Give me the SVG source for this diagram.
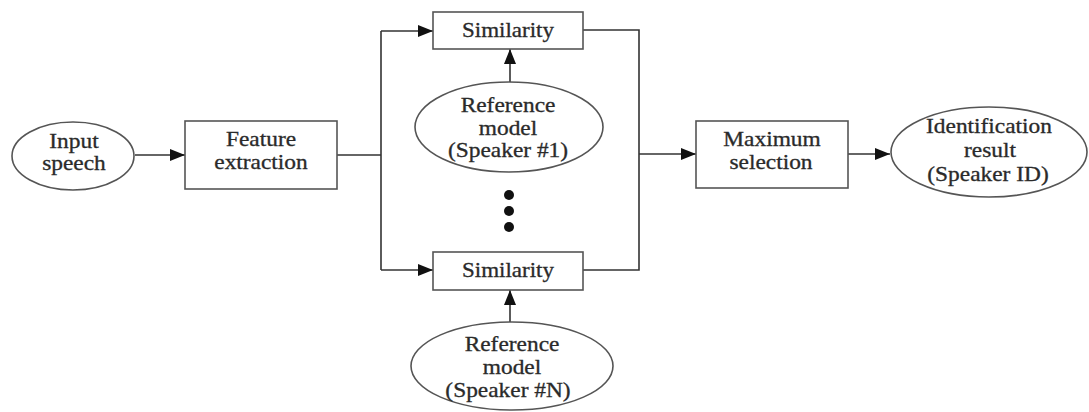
<svg xmlns="http://www.w3.org/2000/svg" width="1089" height="412" viewBox="0 0 1089 412">
  <defs>
    <marker id="arrow" viewBox="0 0 15 12" refX="15" refY="6" markerWidth="15" markerHeight="12" markerUnits="userSpaceOnUse" orient="auto">
      <path d="M0,0 L15,6 L0,12 Z" fill="#111"/>
    </marker>
    <style>
      .shape { fill: #fff; stroke: #555; stroke-width: 1.6; }
      .wire { fill: none; stroke: #333; stroke-width: 1.6; }
      .label { font-family: "Liberation Serif", "Times New Roman", serif; font-size: 20px; fill: #2a2a2a; stroke: #2a2a2a; stroke-width: 0.3; text-anchor: middle; }
    </style>
  </defs>
  <rect width="1089" height="412" fill="#fff"/>

  <g id="connectors">
    <line class="wire" x1="135" y1="155" x2="185" y2="155" marker-end="url(#arrow)"/>
    <polyline class="wire" points="337,155 381,155"/>
    <polyline class="wire" points="381,31 381,270"/>
    <line class="wire" x1="381" y1="31" x2="433" y2="31" marker-end="url(#arrow)"/>
    <line class="wire" x1="381" y1="270" x2="433" y2="270" marker-end="url(#arrow)"/>
    <line class="wire" x1="510" y1="82" x2="510" y2="49" marker-end="url(#arrow)"/>
    <line class="wire" x1="510" y1="323" x2="510" y2="290" marker-end="url(#arrow)"/>
    <polyline class="wire" points="583,30 639,30 639,270 583,270"/>
    <line class="wire" x1="639" y1="154" x2="696" y2="154" marker-end="url(#arrow)"/>
    <line class="wire" x1="848" y1="154" x2="890" y2="154" marker-end="url(#arrow)"/>
    <circle cx="509" cy="195" r="5" fill="#111"/>
    <circle cx="509" cy="211" r="5" fill="#111"/>
    <circle cx="509" cy="227" r="5" fill="#111"/>
  </g>

  <!-- labels use a slightly widened serif face -->
  <g id="input-speech">
    <ellipse class="shape" cx="73" cy="156" rx="61" ry="34"/>
    <text class="label" transform="translate(74 148) scale(1.17 1)">Input</text>
    <text class="label" transform="translate(74 170) scale(1.17 1)">speech</text>
  </g>

  <g id="feature-extraction">
    <rect class="shape" x="185" y="121" width="152" height="68"/>
    <text class="label" transform="translate(261 146) scale(1.17 1)">Feature</text>
    <text class="label" transform="translate(261 169) scale(1.17 1)">extraction</text>
  </g>

  <g id="similarity-1">
    <rect class="shape" x="433" y="12" width="150" height="37"/>
    <text class="label" transform="translate(508 37) scale(1.15 1)">Similarity</text>
  </g>

  <g id="reference-model-1">
    <ellipse class="shape" cx="509" cy="127" rx="94" ry="45"/>
    <text class="label" transform="translate(508 112) scale(1.17 1)">Reference</text>
    <text class="label" transform="translate(508 135) scale(1.17 1)">model</text>
    <text class="label" transform="translate(508 157) scale(1.17 1)">(Speaker #1)</text>
  </g>

  <g id="similarity-n">
    <rect class="shape" x="433" y="252" width="150" height="38"/>
    <text class="label" transform="translate(508 277) scale(1.15 1)">Similarity</text>
  </g>

  <g id="reference-model-n">
    <ellipse class="shape" cx="512" cy="366" rx="101" ry="44"/>
    <text class="label" transform="translate(512 351) scale(1.17 1)">Reference</text>
    <text class="label" transform="translate(512 374) scale(1.17 1)">model</text>
    <text class="label" transform="translate(508 397) scale(1.17 1)">(Speaker #N)</text>
  </g>

  <g id="maximum-selection">
    <rect class="shape" x="696" y="121" width="152" height="67"/>
    <text class="label" transform="translate(772 146) scale(1.17 1)">Maximum</text>
    <text class="label" transform="translate(771 169) scale(1.17 1)">selection</text>
  </g>

  <g id="identification-result">
    <ellipse class="shape" cx="989" cy="152" rx="98" ry="45"/>
    <text class="label" transform="translate(989 133) scale(1.17 1)">Identification</text>
    <text class="label" transform="translate(990 157) scale(1.17 1)">result</text>
    <text class="label" transform="translate(988 181) scale(1.17 1)">(Speaker ID)</text>
  </g>
</svg>
